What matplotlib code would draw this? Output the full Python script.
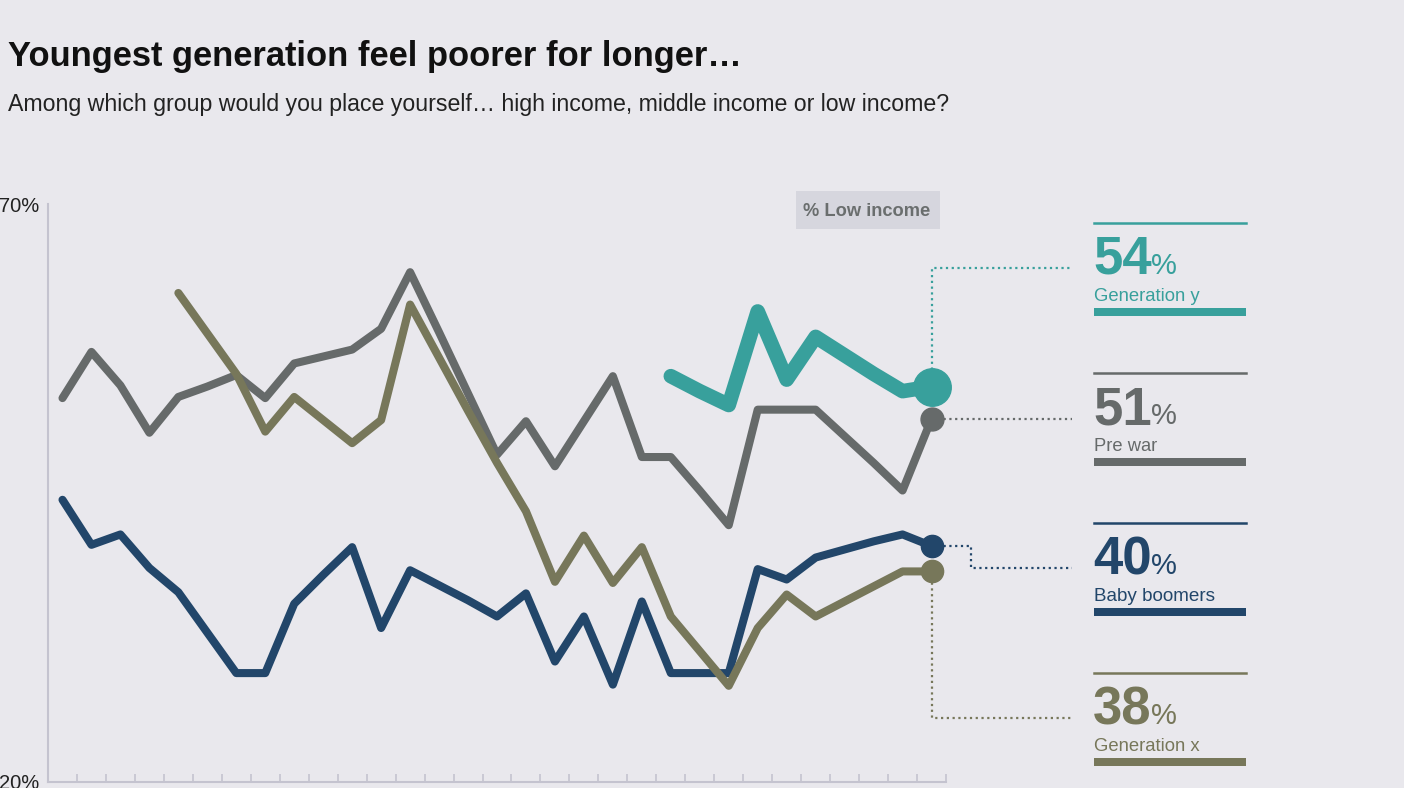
import matplotlib
matplotlib.use("Agg")
from matplotlib import pyplot as plt
from matplotlib import font_manager
from matplotlib.patches import Rectangle

nan = float('nan')

# 31 survey waves, no labels on the x axis
periods = list(range(31))

pre_war = [53.2, 57.2, 54.3, 50.2, 53.3, 54.2, 55.2, 53.2, 56.2, 56.8,
           57.4, 59.2, 64.1, 58.9, 53.6, 48.3, 51.2, 47.3, 51.2, 55.1,
           48.1, 48.1, 45.2, 42.2, 52.2, 52.2, 52.2, 49.9, 47.6, 45.2, 51.4]
baby_boomers = [44.4, 40.5, 41.4, 38.5, 36.4, 32.9, 29.4, 29.4, 35.4, 37.9,
                40.3, 33.3, 38.3, 37.0, 35.7, 34.3, 36.3, 30.4, 34.3, 28.4,
                35.6, 29.4, 29.4, 29.4, 38.4, 37.5, 39.4, 40.1, 40.8, 41.4, 40.4]
generation_x = [nan] * 4 + [62.3, 58.8, 55.3, 50.3, 53.3, 51.3, 49.3, 51.3, 61.3,
                            56.7, 52.1, 47.6, 43.4, 37.3, 41.3, 37.2, 40.3, 34.3,
                            31.3, 28.3, 33.3, 36.2, 34.3, 35.6, 36.9, 38.2, 38.2]
generation_y = [nan] * 21 + [55.1, 53.8, 52.6, 60.7, 54.8, 58.5, 56.9, 55.3, 53.8, 54.2]

series_names = ["Generation y", "Pre war", "Baby boomers", "Generation x"]
y_ticks = [20, 70]
y_tick_labels = ["20%", "70%"]

BG = "#e9e8ed"
AXC = "#c4c3cf"
TEAL = "#38a09c"
GRAY = "#666a6a"
NAVY = "#22466a"
OLIVE = "#77775a"

W, H = 1404, 788

installed = {f.name for f in font_manager.fontManager.ttflist}


def pick(*names):
    for n in names:
        if n in installed:
            return n
    return "DejaVu Sans"


SANS = pick("Liberation Sans", "Arial", "DejaVu Sans")
plt.rcParams['font.family'] = SANS


def fig_xy(px, py):
    # pixel position measured from the top-left corner -> figure fraction
    return px / W, 1 - py / H


fig = plt.figure(figsize=(W / 100, H / 100), dpi=100, facecolor=BG)
renderer = fig.canvas.get_renderer()


def fit_width(t, target):
    # scale the font so the text spans the width seen in the picture
    w = t.get_window_extent(renderer).width
    t.set_fontsize(t.get_fontsize() * target / w)


ax = fig.add_axes([48 / W, 1 - 781.7 / H, 898 / W, 577.7 / H], facecolor=BG)
ax.set_xlim(-0.5, 30.5)
ax.set_ylim(20, 70)

for s in ["top", "right"]:
    ax.spines[s].set_visible(False)
for s in ["left", "bottom"]:
    ax.spines[s].set_color(AXC)
    ax.spines[s].set_linewidth(1.5)

ax.set_xticks([p + 0.5 for p in periods])
ax.tick_params(axis='x', direction='in', length=6, width=1.2, color=AXC, labelbottom=False)
ax.set_yticks(y_ticks)
ax.set_yticklabels(y_tick_labels)
ax.tick_params(axis='y', length=0, pad=6, labelsize=14.5, labelcolor="#222222")

line_kw = dict(solid_joinstyle='round', solid_capstyle='round', clip_on=False)
ax.plot(periods, pre_war, color=GRAY, lw=5.8, zorder=3, **line_kw)
ax.plot(periods, baby_boomers, color=NAVY, lw=5.8, zorder=4, **line_kw)
ax.plot(periods, generation_x, color=OLIVE, lw=5.8, zorder=5, **line_kw)
ax.plot(periods, generation_y, color=TEAL, lw=10.5, zorder=6, **line_kw)

last = periods[-1]
ax.plot(last, pre_war[-1], 'o', ms=16.5, color=GRAY, zorder=8, clip_on=False)
ax.plot(last, baby_boomers[-1], 'o', ms=16, color=NAVY, zorder=8, clip_on=False)
ax.plot(last, generation_x[-1], 'o', ms=16, color=OLIVE, zorder=8, clip_on=False)
ax.plot(last, generation_y[-1], 'o', ms=27, color=TEAL, zorder=9, clip_on=False)

# title and subtitle
t = fig.text(*fig_xy(8, 66), "Youngest generation feel poorer for longer…",
             fontsize=30, fontweight='bold', color="#111111", va='baseline')
fit_width(t, 734)
t = fig.text(*fig_xy(8, 111), "Among which group would you place yourself… high income, "
             "middle income or low income?", fontsize=16, color="#222222", va='baseline')
fit_width(t, 942)

# "% Low income" tag
x0, y0 = fig_xy(796, 229)
fig.add_artist(Rectangle((x0, y0), 144 / W, 38 / H, transform=fig.transFigure,
                         facecolor="#d6d6de", edgecolor='none'))
t = fig.text(*fig_xy(867, 212), "% Low income", fontsize=14, fontweight='bold',
             color="#6a6e6e", ha='center', va='center')
fit_width(t, 127)

# label column on the right
values = [generation_y[-1], pre_war[-1], baby_boomers[-1], generation_x[-1]]
colors = [TEAL, GRAY, NAVY, OLIVE]
tops = [223.3, 373.4, 523.4, 673.4]
routes = ["up", "straight", "step", "down"]

to_px = ax.transData
for name, val, c, top, route in zip(series_names, values, colors, tops, routes):
    # thin rule above, thick bar below
    fig.add_artist(plt.Line2D([1094 / W, 1246 / W], [1 - top / H] * 2,
                              transform=fig.transFigure, color=c, lw=1.8))
    bx, by = fig_xy(1094, top + 92.8)
    fig.add_artist(Rectangle((bx, by), 152 / W, 7.8 / H, transform=fig.transFigure,
                             facecolor=c, edgecolor='none'))
    num = fig.text(*fig_xy(1093, top + 50.7), f"{round(val)}", fontsize=38,
                   fontweight='bold', color=c, va='baseline')
    ext = num.get_window_extent(renderer)
    fig.text((ext.x1 - 1) / W, 1 - (top + 50.7) / H, "%", fontsize=21,
             color=c, va='baseline')
    nt = fig.text(*fig_xy(1094, top + 77.4), name, fontsize=14, color=c, va='baseline')
    fit_width(nt, {"Generation y": 107, "Pre war": 64,
                   "Baby boomers": 123, "Generation x": 107}[name])

    # dotted connector from the last point to the label
    dx, dy = to_px.transform((last, val))
    dy = H - dy
    end_y = top + 45
    if route == "up" or route == "down":
        pts = [(dx, dy), (dx, end_y), (1072, end_y)]
    elif route == "step":
        pts = [(dx, dy), (971, dy), (971, end_y), (1072, end_y)]
    else:
        pts = [(dx, dy), (1072, dy)]
    xs = [p[0] / W for p in pts]
    ys = [1 - p[1] / H for p in pts]
    fig.add_artist(plt.Line2D(xs, ys, transform=fig.transFigure, color=c, lw=1.6,
                              linestyle=(0, (1, 1.6)), zorder=1))

fig.savefig("out.png", dpi=100, facecolor=BG)
